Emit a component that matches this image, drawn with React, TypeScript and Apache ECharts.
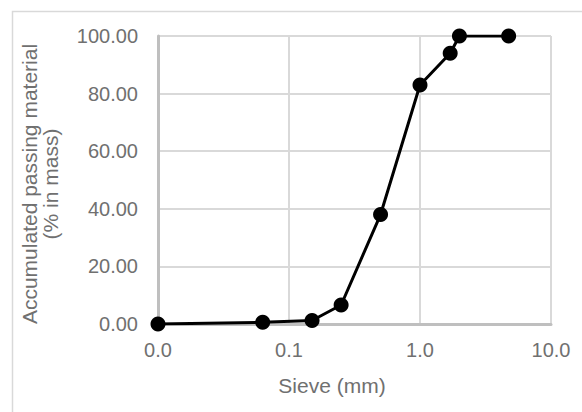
import React, { useEffect, useRef } from "react";
import * as echarts from "echarts";

const sieveSizes = [0.01, 0.063, 0.15, 0.25, 0.5, 1.0, 1.7, 2.0, 4.75];
const passing = [0, 0.6, 1.2, 6.6, 38, 83, 94, 100, 100];
const xTitle = "Sieve (mm)";
const yTitle = "Accumulated passing material\n(% in mass)";

export default function App() {
  const ref = useRef<HTMLDivElement>(null);
  useEffect(() => {
    if (!ref.current) return;
    const chart = echarts.init(ref.current, undefined, { renderer: "svg" });
    const font = "Arial, 'Liberation Sans', sans-serif";
    const textColor = "#707070";
    chart.setOption({
      animation: false,
      backgroundColor: "#ffffff",
      grid: { left: 158, top: 36, right: 31, bottom: 88, containLabel: false },
      xAxis: {
        type: "log",
        logBase: 10,
        min: 0.01,
        max: 10,
        axisLine: { show: true, onZero: false, lineStyle: { color: "#bfbfbf", width: 3 } },
        axisTick: { show: false },
        splitLine: { show: true, lineStyle: { color: "#d9d9d9", width: 2 } },
        minorTick: { show: false },
        axisLabel: {
          color: textColor,
          fontFamily: font,
          fontSize: 20,
          margin: 16,
          formatter: (v: number) => v.toFixed(1),
        },
      },
      yAxis: {
        type: "value",
        min: 0,
        max: 100,
        interval: 20,
        axisLine: { show: true, lineStyle: { color: "#bfbfbf", width: 3 } },
        axisTick: { show: false },
        splitLine: { show: true, lineStyle: { color: "#d9d9d9", width: 2 } },
        axisLabel: {
          color: textColor,
          fontFamily: font,
          fontSize: 20,
          margin: 20,
          formatter: (v: number) => v.toFixed(2),
        },
      },
      series: [
        {
          type: "line",
          data: sieveSizes.map((s, i) => [s, passing[i]]),
          symbol: "circle",
          symbolSize: 15,
          lineStyle: { color: "#000000", width: 3 },
          itemStyle: { color: "#000000" },
          z: 5,
        },
      ],
      graphic: [
        {
          type: "rect",
          left: 10,
          top: 9,
          shape: { x: 0, y: 0, width: 620, height: 440 },
          style: { fill: "none", stroke: "#d9d9d9", lineWidth: 1.5 },
          silent: true,
        },
        {
          type: "text",
          x: 332,
          y: 385,
          style: {
            text: xTitle,
            align: "center",
            verticalAlign: "middle",
            fontSize: 21,
            fontFamily: font,
            fill: textColor,
          },
        },
        {
          type: "text",
          x: 40,
          y: 184,
          rotation: Math.PI / 2,
          style: {
            text: yTitle,
            align: "center",
            verticalAlign: "middle",
            fontSize: 21,
            lineHeight: 21,
            fontFamily: font,
            fill: textColor,
          },
        },
      ],
    });
    return () => chart.dispose();
  }, []);
  return (
    <div
      ref={ref}
      style={{ position: "absolute", left: 0, top: 0, width: 582, height: 412, background: "#fff" }}
    />
  );
}
